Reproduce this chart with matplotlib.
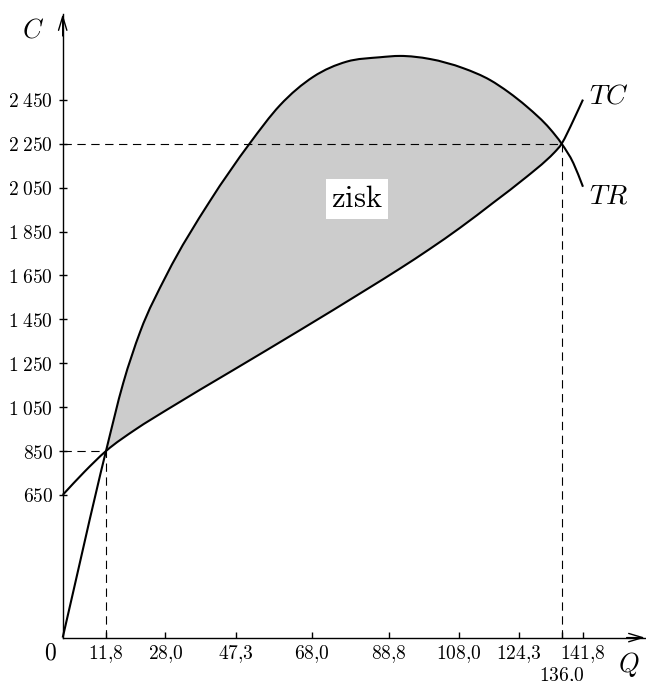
import numpy as np
from matplotlib import pyplot as plt
from matplotlib.path import Path
from matplotlib.patches import PathPatch

plt.rcParams['mathtext.fontset'] = 'cm'

# total revenue TR
tr_q = np.array([0, 11.8, 16.5, 21.1, 28.3, 40.1, 51.0, 59.2, 68.3, 77.4,
                 86.5, 91.9, 100.1, 109.2, 116.5, 121.5, 126.5, 132.8, 136.0, 139.2, 141.8])
tr_c = np.array([0, 850, 1160, 1393, 1652, 1988, 2252, 2425, 2555, 2624,
                 2644, 2650, 2636, 2594, 2540, 2485, 2419, 2318, 2250, 2161, 2054])

# total cost TC
tc_q = np.array([0, 5.9, 11.8, 20.0, 28.3, 46.5, 64.7, 82.9, 91.9, 100.0, 108.3, 117.4,
                 126.5, 131.9, 134.0, 136.0, 137.6, 139.2, 141.8])
tc_c = np.array([650, 755, 850, 950, 1037, 1219, 1401, 1587, 1681, 1770, 1867, 1982,
                 2100, 2176, 2210, 2250, 2301, 2357, 2451])

# break-even points
be_q = [11.8, 136.0]
be_c = [850, 2250]

xticks = [11.8, 28.0, 47.3, 68.0, 88.8, 108.0, 124.3, 136.0, 141.8]
xlabels = ['11,8', '28,0', '47,3', '68,0', '88,8', '108,0', '124,3', '136,0', '141,8']
yticks = [650, 850, 1050, 1250, 1450, 1650, 1850, 2050, 2250, 2450]
ylabels = ['650', '850', '1 050', '1 250', '1 450', '1 650', '1 850',
           '2 050', '2 250', '2 450']


def smooth_verts(q, c):
    # cubic hermite pieces through the read points, drawn as bezier segments
    q = np.asarray(q, float)
    c = np.asarray(c, float)
    m = np.gradient(c, q)
    verts = [(q[0], c[0])]
    for i in range(len(q) - 1):
        h = q[i + 1] - q[i]
        verts.append((q[i] + h / 3, c[i] + m[i] * h / 3))
        verts.append((q[i + 1] - h / 3, c[i + 1] - m[i + 1] * h / 3))
        verts.append((q[i + 1], c[i + 1]))
    return verts


def curve_path(q, c):
    v = smooth_verts(q, c)
    return Path(v, [Path.MOVETO] + [Path.CURVE4] * (len(v) - 1))


fig = plt.figure(figsize=(6.46, 6.81), dpi=100)
ax = fig.add_axes([0, 0, 1, 1])
ax.set_xlim(-17.09, 158.98)
ax.set_ylim(-197.7, 2904.8)

x_end = 158.7
y_end = 2841

# shaded profit region
tr_all = smooth_verts(tr_q, tr_c)
tc_all = smooth_verts(tc_q, tc_c)
i0, i1 = list(tr_q).index(be_q[0]), list(tr_q).index(be_q[1])
j0, j1 = list(tc_q).index(be_q[0]), list(tc_q).index(be_q[1])
top = tr_all[3 * i0:3 * i1 + 1]
bot = tc_all[3 * j0:3 * j1 + 1][::-1]
verts = top + bot + [top[0]]
codes = ([Path.MOVETO] + [Path.CURVE4] * (len(top) - 1) + [Path.LINETO]
         + [Path.CURVE4] * (len(bot) - 1) + [Path.CLOSEPOLY])
ax.add_patch(PathPatch(Path(verts, codes), facecolor='#cccccc', edgecolor='none', zorder=1))

# dashed guide lines
for q, c in zip(be_q, be_c):
    ax.plot([0, q], [c, c], color='black', lw=0.8, ls=(0, (7.5, 5)), zorder=2)
    ax.plot([q, q], [0, c], color='black', lw=0.8, ls=(0, (7.5, 5)), zorder=2)

ax.add_patch(PathPatch(curve_path(tr_q, tr_c), facecolor='none', edgecolor='black',
                       lw=1.5, zorder=3, capstyle='butt'))
ax.add_patch(PathPatch(curve_path(tc_q, tc_c), facecolor='none', edgecolor='black',
                       lw=1.5, zorder=3, capstyle='butt'))

ax.annotate(r'$TC$', xy=(tc_q[-1], tc_c[-1]), xytext=(4, 3), textcoords='offset points',
            fontsize=20, ha='left', va='center')
ax.annotate(r'$TR$', xy=(tr_q[-1], tr_c[-1]), xytext=(4, -6), textcoords='offset points',
            fontsize=20, ha='left', va='center')
ax.text(80.2, 2000, r'$\mathrm{zisk}$', fontsize=22, ha='center', va='center', zorder=4,
        bbox=dict(facecolor='white', edgecolor='none', pad=4))

# axes with arrows
for s in ['top', 'right']:
    ax.spines[s].set_visible(False)
ax.spines['left'].set_position(('data', 0))
ax.spines['bottom'].set_position(('data', 0))
ax.spines['left'].set_bounds(0, y_end)
ax.spines['bottom'].set_bounds(0, x_end)
ax.spines['left'].set_linewidth(1.0)
ax.spines['bottom'].set_linewidth(1.0)
arrow = dict(arrowstyle='->,head_length=1.0,head_width=0.3', lw=1.0, shrinkA=0, shrinkB=0,
             color='black')
ax.annotate('', xy=(0, y_end), xytext=(0, y_end - 100), arrowprops=arrow)
ax.annotate('', xy=(x_end, 0), xytext=(x_end - 5, 0), arrowprops=arrow)

ax.set_xticks(xticks)
ax.set_xticklabels(['$' + t.replace(',', '{,}') + '$' for t in xlabels], fontsize=14)
ax.set_yticks(yticks)
ax.set_yticklabels(['$' + t.replace(' ', r'\;') + '$' for t in ylabels], fontsize=14)
ax.tick_params(axis='x', direction='in', length=4, width=1.0, pad=4)
ax.tick_params(axis='y', direction='inout', length=6, width=1.0, pad=4)
ax.xaxis.get_major_ticks()[xticks.index(136.0)].set_pad(20)

ax.annotate(r'$C$', xy=(0, y_end), xytext=(-21.5, -12), textcoords='offset points',
            fontsize=19, ha='center', va='center')
ax.annotate(r'$Q$', xy=(x_end, 0), xytext=(-12, -19.5), textcoords='offset points',
            fontsize=19, ha='center', va='center')
ax.annotate(r'$0$', xy=(0, 0), xytext=(-9, -11), textcoords='offset points',
            fontsize=17, ha='center', va='center')

fig.savefig('out.png', dpi=100)
